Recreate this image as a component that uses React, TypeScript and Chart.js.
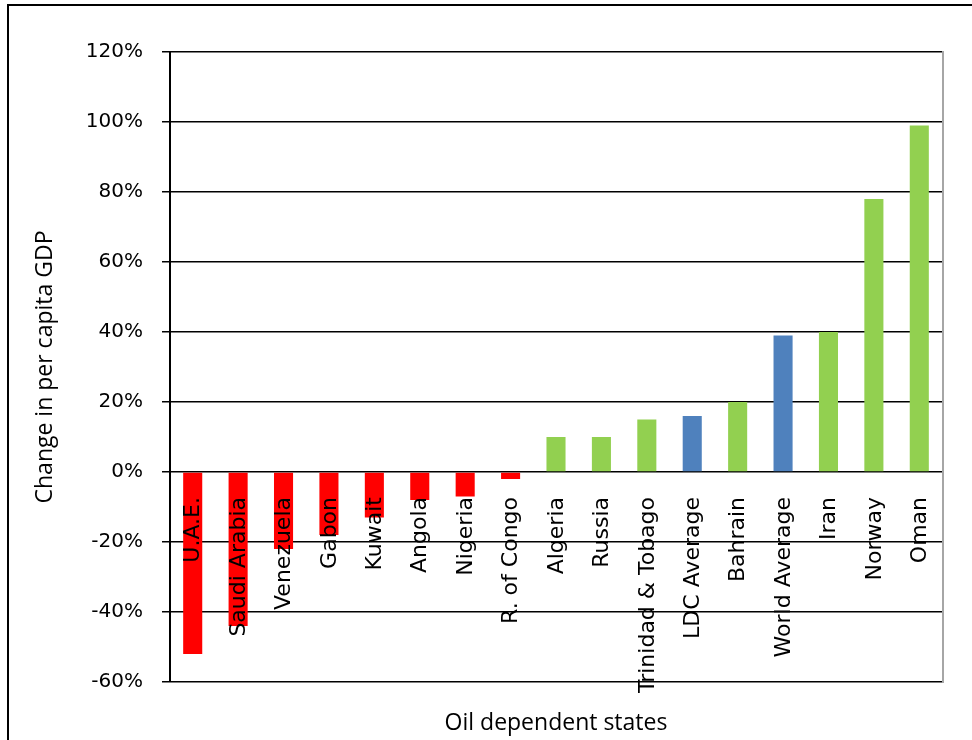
import React, { useEffect, useRef } from "react";
import { Chart, registerables } from "chart.js";

Chart.register(...registerables);

const categories = [
  "U.A.E.",
  "Saudi Arabia",
  "Venezuela",
  "Gabon",
  "Kuwait",
  "Angola",
  "Nigeria",
  "R. of Congo",
  "Algeria",
  "Russia",
  "Trinidad & Tobago",
  "LDC Average",
  "Bahrain",
  "World Average",
  "Iran",
  "Norway",
  "Oman",
];

const changePct = [-52, -44, -22, -18, -13, -8, -7, -2, 10, 10, 15, 16, 20, 39, 40, 78, 99];

const groups = [
  "decline", "decline", "decline", "decline", "decline", "decline", "decline", "decline",
  "growth", "growth", "growth", "average", "growth", "average", "growth", "growth", "growth",
];

const yMin = -60;
const yMax = 120;
const yStep = 20;

const xTitle = "Oil dependent states";
const yTitle = "Change in per capita GDP";

const groupColors: Record<string, string> = {
  decline: "#FF0000",
  growth: "#92D050",
  average: "#4F81BD",
};

const frameAndLabels = {
  id: "frameAndLabels",
  beforeDraw(chart: any) {
    const { ctx } = chart;
    ctx.save();
    ctx.fillStyle = "#ffffff";
    ctx.fillRect(0, 0, chart.width, chart.height);
    ctx.strokeStyle = "#000";
    ctx.lineWidth = 2;
    ctx.strokeRect(8, 5, 2000, 2000);
    ctx.restore();
  },
  afterDatasetsDraw(chart: any) {
    const { ctx, chartArea } = chart;
    const xs = chart.scales.x;
    const ys = chart.scales.y;
    const y0 = ys.getPixelForValue(0) + 25;
    ctx.save();
    ctx.fillStyle = "#000";
    ctx.font = "22px 'DejaVu Sans'";
    ctx.textAlign = "right";
    ctx.textBaseline = "middle";
    categories.forEach((label, i) => {
      const x = xs.getPixelForValue(i);
      ctx.save();
      ctx.translate(x + 1, y0);
      ctx.rotate(-Math.PI / 2);
      ctx.fillText(label, 0, 0);
      ctx.restore();
    });
    // right border of plot area
    ctx.strokeStyle = "#a6a6a6";
    ctx.lineWidth = 2;
    ctx.beginPath();
    ctx.moveTo(chartArea.right + 1, chartArea.top - 1);
    ctx.lineTo(chartArea.right + 1, chartArea.bottom + 1);
    ctx.stroke();
    ctx.restore();
  },
};

export default function App() {
  const canvasRef = useRef<HTMLCanvasElement | null>(null);

  useEffect(() => {
    if (!canvasRef.current) return;
    const chart = new Chart(canvasRef.current, {
      type: "bar",
      data: {
        labels: categories,
        datasets: [
          {
            data: changePct,
            backgroundColor: groups.map((g) => groupColors[g]),
            borderWidth: 0,
            barPercentage: 0.42,
            categoryPercentage: 1,
          },
        ],
      },
      options: {
        animation: false,
        responsive: false,
        devicePixelRatio: 1,
        layout: { padding: { top: 52, right: 30, bottom: 0, left: 0 } },
        plugins: {
          legend: { display: false },
          tooltip: { enabled: false },
          title: { display: false },
        },
        scales: {
          x: {
            grid: { display: false },
            border: { display: false },
            ticks: { display: false },
            title: {
              display: true,
              text: xTitle,
              color: "#000",
              font: { family: "'Open Sans'", size: 23 },
              padding: { top: 19.4, bottom: 3 },
            },
          },
          y: {
            min: yMin,
            max: yMax,
            afterFit: (scale: any) => {
              scale.width = 170;
            },
            ticks: {
              stepSize: yStep,
              color: "#000",
              padding: 19,
              font: { family: "'DejaVu Sans'", size: 20 },
              callback: (v: any) => `${v}%`,
            },
            grid: {
              color: "#000",
              lineWidth: 1.5,
              tickLength: 8,
              drawTicks: true,
            },
            border: { display: true, color: "#000", width: 2 },
            title: {
              display: true,
              text: yTitle,
              color: "#000",
              font: { family: "'Open Sans'", size: 23 },
              padding: { top: 32, bottom: 0 },
            },
          },
        },
      },
      plugins: [frameAndLabels],
    });
    return () => chart.destroy();
  }, []);

  return (
    <div style={{ position: "absolute", left: 0, top: 0, width: 972, height: 740 }}>
      <canvas ref={canvasRef} width={972} height={740} />
    </div>
  );
}
